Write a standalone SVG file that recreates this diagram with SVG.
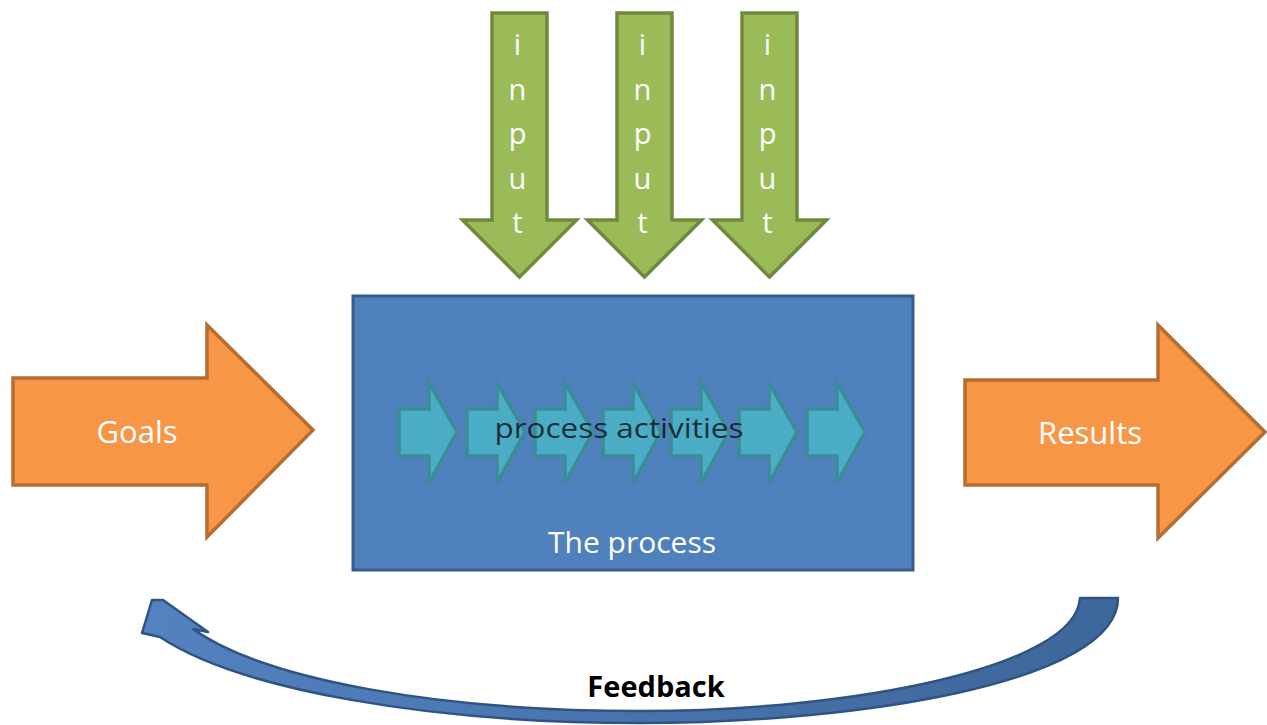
<svg xmlns="http://www.w3.org/2000/svg" width="1267" height="725" viewBox="0 0 1267 725">
  <style>
    .orange { fill: #F79646; stroke: #B66D31; stroke-width: 3.5; stroke-linejoin: miter; }
    .green { fill: #9BBB59; stroke: #71893F; stroke-width: 3.5; }
    .box { fill: #4F81BD; stroke: #385D8A; stroke-width: 3; }
    .step { fill: #4BACC6; stroke: #3A8C96; stroke-width: 3.5; }
    .lbl { font-family: "Open Sans", "Liberation Sans", sans-serif; fill: #FFFFFF; text-anchor: middle; }
    .letter { font-family: "Open Sans", "Liberation Sans", sans-serif; font-size: 29px; fill: #FFFFFF; text-anchor: middle; }
  </style>
  <defs>
    <!-- one activity chevron, drawn at origin -->
    <path id="step" d="M0 26 L30 26 L30 0 L58 49 L30 100 L30 73 L0 73 Z"/>
    <!-- downward input arrow, drawn at origin (shaft centre x=0) -->
    <path id="inArrow" d="M-27.5 0 L27.5 0 L27.5 207 L57 207 L0 264 L-57 207 L-27.5 207 Z"/>
    <linearGradient id="fbGrad" x1="0" y1="0" x2="1" y2="0">
      <stop offset="0" stop-color="#5482C0"/>
      <stop offset="1" stop-color="#3D6699"/>
    </linearGradient>
  </defs>

  <rect width="1267" height="725" fill="#FFFFFF"/>

  <!-- Goals -->
  <g id="goals">
    <path class="orange" d="M13 378 L207 378 L207 325 L313 430 L207 537 L207 485 L13 485 Z"/>
    <text class="lbl" x="137" y="443" font-size="31">Goals</text>
  </g>

  <!-- Results -->
  <g id="results">
    <path class="orange" d="M965 380 L1158 380 L1158 325 L1265 432 L1158 538 L1158 485 L965 485 Z"/>
    <text class="lbl" x="1090" y="444" font-size="31">Results</text>
  </g>

  <!-- Inputs -->
  <g id="input1" transform="translate(519.5 13)">
    <use href="#inArrow" class="green"/>
    <text class="letter" x="-2" y="42">i</text>
    <text class="letter" x="-2" y="87">n</text>
    <text class="letter" x="-2" y="131">p</text>
    <text class="letter" x="-2" y="176">u</text>
    <text class="letter" x="-2" y="220">t</text>
  </g>
  <g id="input2" transform="translate(644.5 13)">
    <use href="#inArrow" class="green"/>
    <text class="letter" x="-2" y="42">i</text>
    <text class="letter" x="-2" y="87">n</text>
    <text class="letter" x="-2" y="131">p</text>
    <text class="letter" x="-2" y="176">u</text>
    <text class="letter" x="-2" y="220">t</text>
  </g>
  <g id="input3" transform="translate(769.5 13)">
    <use href="#inArrow" class="green"/>
    <text class="letter" x="-2" y="42">i</text>
    <text class="letter" x="-2" y="87">n</text>
    <text class="letter" x="-2" y="131">p</text>
    <text class="letter" x="-2" y="176">u</text>
    <text class="letter" x="-2" y="220">t</text>
  </g>

  <!-- The process -->
  <g id="process">
    <rect class="box" x="353" y="296" width="560" height="274"/>
    <g id="activities">
      <use href="#step" class="step" x="399" y="383"/>
      <use href="#step" class="step" x="467" y="383"/>
      <use href="#step" class="step" x="535" y="383"/>
      <use href="#step" class="step" x="603" y="383"/>
      <use href="#step" class="step" x="671" y="383"/>
      <use href="#step" class="step" x="739" y="383"/>
      <use href="#step" class="step" x="807" y="383"/>
      <text x="619" y="438" font-family="'Open Sans', 'Liberation Sans', sans-serif" font-size="28" fill="#141c24" fill-opacity="0.9" text-anchor="middle" textLength="249" lengthAdjust="spacingAndGlyphs">process activities</text>
    </g>
    <text class="lbl" x="632" y="553" font-size="30">The process</text>
  </g>

  <!-- Feedback loop -->
  <g id="connectors">
    <path fill="url(#fbGrad)" stroke="#2F5482" stroke-width="2.5" stroke-linejoin="round"
      d="M1080 598 L1118 598 C1118 682 860 723 640 723 C430 723 240 690 160 637 L142 633 L152 600 L163 600 L208 632 L193 629 C265 680 440 711 640 711 C850 711 1076 668 1080 598 Z"/>
  </g>
  <g id="feedback">
    <text x="656" y="697" font-family="'Open Sans', 'Liberation Sans', sans-serif" font-size="29" font-weight="bold" fill="#000000" text-anchor="middle">Feedback</text>
  </g>
</svg>
